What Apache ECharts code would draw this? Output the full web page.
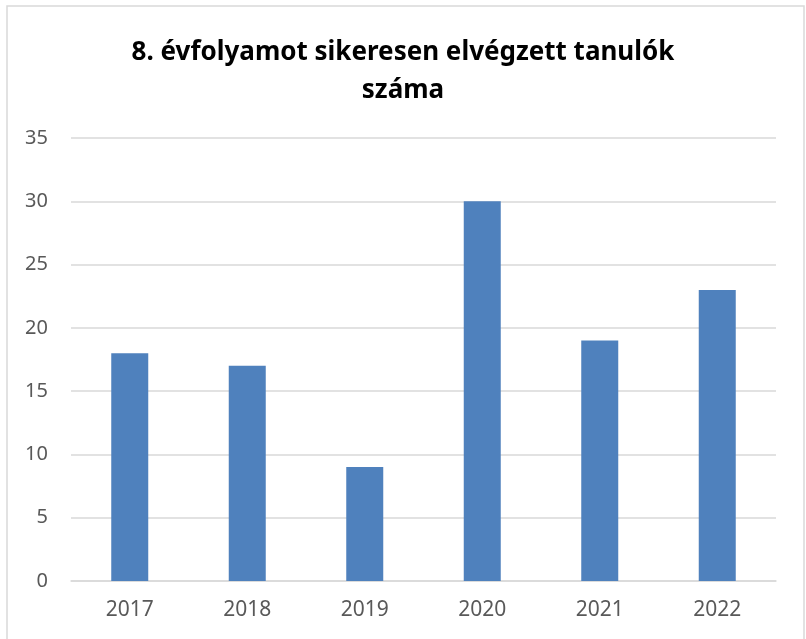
<!DOCTYPE html>
<html>
<head>
<meta charset="utf-8">
<script src="https://cdn.jsdelivr.net/npm/echarts@6/dist/echarts.min.js"></script>
<style>
  html, body { margin: 0; padding: 0; background: #fff; }
  #chart { width: 806px; height: 639px; }
</style>
</head>
<body>
<div id="chart"></div>
<script>
// évek és tanulók száma
const years = ["2017", "2018", "2019", "2020", "2021", "2022"];
const students = [18, 17, 9, 30, 19, 23];
const chartTitle = "8. évfolyamot sikeresen elvégzett tanulók\nszáma";

const myChart = echarts.init(document.getElementById("chart"));
myChart.setOption({
    animation: false,
    title: {
        text: chartTitle,
        left: "center",
        top: 29,
        textStyle: {
            fontFamily: "Noto Sans",
            fontSize: 26,
            fontWeight: "bold",
            color: "#000",
            lineHeight: 38
        }
    },
    graphic: [{
        type: "rect",
        shape: { x: 7, y: 6, width: 797, height: 700 },
        style: { fill: "none", stroke: "#d9d9d9", lineWidth: 1.5 },
        silent: true
    }],
    grid: { left: 71, right: 30, top: 138, bottom: 58 },
    xAxis: {
        type: "category",
        data: years,
        axisTick: { show: false },
        axisLine: { lineStyle: { color: "#d9d9d9", width: 1.5 } },
        axisLabel: { color: "#595959", fontFamily: "Noto Sans", fontSize: 21, margin: 19 }
    },
    yAxis: {
        type: "value",
        min: 0,
        max: 35,
        interval: 5,
        axisLine: { show: false },
        axisTick: { show: false },
        splitLine: { lineStyle: { color: "#d9d9d9", width: 1.5 } },
        axisLabel: { color: "#595959", fontFamily: "Noto Sans", fontSize: 20, margin: 23 }
    },
    series: [{
        type: "bar",
        data: students,
        barWidth: 37,
        itemStyle: { color: "#4f81bd" }
    }]
});
</script>
</body>
</html>
